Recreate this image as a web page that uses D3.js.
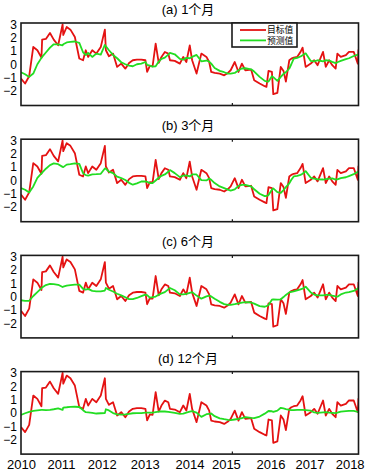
<!DOCTYPE html>
<html>
<head>
<meta http-equiv="Content-Type" content="text/html; charset=UTF-8">
<style>
body { margin: 0; background: #fff; }
text { font-family: "Liberation Sans", Arial, "Noto Sans CJK SC", sans-serif; }
</style>
</head>
<body>

<div class="container"></div>

<script src="https://cdn.jsdelivr.net/npm/d3@7/dist/d3.min.js"></script>
<script>

// months counted from Jan 2010 (points are not evenly spaced in the source)
var months = [0, 1.2, 2.4, 3.6, 4.8, 6.0, 6.2, 7.3, 8.5, 9.6,
    10.9, 12.2, 12.4, 13.4, 14.5, 15.8, 17.1, 18.2, 19.0, 19.7,
    20.9, 22.1, 23.4, 24.6, 24.9, 25.8, 27.0, 28.2, 29.4, 30.6,
    31.7, 32.8, 34.0, 35.3, 36.5, 37.0, 37.8, 38.6, 39.5, 40.4,
    41.2, 42.2, 43.2, 43.7, 45.1, 46.6, 47.6, 48.5, 49.5, 50.2,
    51.5, 52.9, 54.4, 55.2, 55.8, 56.8, 58.3, 59.6, 60.7, 61.5,
    62.7, 63.8, 64.8, 65.8, 67.5, 68.4, 70.0, 71.5, 72.0, 72.6,
    73.6, 74.0, 75.2, 76.2, 77.0, 77.7, 78.7, 79.3, 80.0, 81.0,
    82.0, 82.6, 83.5, 85.0, 86.0, 87.0, 88.6, 89.4, 90.4, 91.3,
    92.3, 92.8, 93.8, 95.3, 96.2, 97.6, 98.8, 99.0];

// 目标值 (same in all four panels)
var target = [-1.07, -1.45, -0.9, 1.3, 1.05, 0.5, 1.85, 1.9, 2.35, 1.85,
    1.43, 3.0, 2.2, 2.8, 2.6, 2.05, 0.43, 0.3, 1.05, 0.55,
    1.05, 0.8, 1.3, 2.6, 1.05, 0.6, 0.8, -0.2, 0.05, -0.33,
    0.1, 0.3, 0.35, 0.35, 0.3, -0.57, -0.12, -0.15, 1.55, 0.1,
    0.55, 0.92, 0.8, 0.3, 0.25, 0.05, 0.55, 0.17, 1.42, 0.3,
    -0.7, 0.8, 0.55, 0.17, -0.58, -0.65, -0.7, -0.83, -0.65, -0.45,
    0.17, -0.58, 0.05, -0.45, -0.4, -1.2, -1.45, -1.65, -1.7, -0.5,
    -0.57, -2.25, -2.15, -0.2, -0.5, -1.3, 0.3, 0.42, 0.5, 0.55,
    0.93, 1.25, -0.2, 0.05, 0.3, -0.07, 0.93, -0.2, 0.3, -0.07,
    -0.33, 0.8, 0.55, 0.68, 0.93, 0.93, 0.05, 1.1];

// 预测值, lead 1 month
var pred1 = [-0.6, -0.75, -0.95, -0.7, 0.0, 0.48, 0.55, 0.88, 1.25, 1.5,
    1.5, 1.42, 1.5, 1.64, 1.68, 1.71, 1.6, 0.9, 0.7, 0.85,
    0.55, 0.8, 0.72, 1.45, 1.35, 1.05, 0.7, 0.45, 0.15, 0.0,
    -0.1, -0.15, 0.0, 0.05, 0.17, -0.05, -0.1, -0.18, -0.15, 0.2,
    0.4, 0.5, 0.72, 0.85, 0.75, 0.4, 0.35, 0.48, 0.45, 0.55,
    0.7, 0.22, 0.28, 0.2, 0.05, -0.28, -0.5, -0.6, -0.7, -0.7,
    -0.65, -0.45, -0.32, -0.3, -0.38, -0.55, -0.95, -1.25, -1.28, -1.3,
    -0.9, -0.97, -1.25, -0.95, -0.72, -0.6, -0.32, 0.0, 0.42, 0.48,
    0.58, 0.68, 0.82, 0.25, 0.22, 0.3, 0.22, 0.3, 0.28, 0.18,
    0.08, 0.15, 0.25, 0.38, 0.45, 0.62, 0.73, 0.75];

// lead 3 months
var pred3 = [-0.57, -0.7, -0.9, -0.45, 0.2, 0.53, 0.58, 0.88, 1.15, 1.28,
    1.22, 1.02, 1.0, 1.19, 1.22, 1.28, 1.25, 0.55, 0.4, 0.37,
    0.45, 0.47, 0.5, 0.9, 0.88, 0.66, 0.55, 0.28, 0.18, 0.03,
    -0.18, -0.32, -0.22, -0.08, -0.07, -0.1, -0.2, -0.2, 0.0, 0.2,
    0.35, 0.45, 0.65, 0.78, 0.55, 0.25, 0.37, 0.38, 0.3, 0.45,
    0.45, 0.02, 0.0, 0.14, 0.05, -0.2, -0.45, -0.58, -0.69, -0.76,
    -0.67, -0.41, -0.33, -0.33, -0.44, -0.66, -1.0, -1.18, -1.17, -1.1,
    -0.7, -0.6, -0.88, -0.94, -0.72, -0.5, -0.22, 0.05, 0.3, 0.34,
    0.42, 0.5, 0.7, 0.2, 0.13, 0.08, 0.07, 0.1, 0.14, 0.15,
    0.07, 0.08, 0.17, 0.24, 0.33, 0.47, 0.65, 0.68];

// lead 6 months
var pred6 = [-0.27, -0.31, -0.31, 0.05, 0.34, 0.64, 0.69, 0.87, 0.96, 0.94,
    0.89, 0.72, 0.75, 0.83, 0.86, 0.9, 0.9, 0.58, 0.52, 0.58,
    0.43, 0.39, 0.4, 0.46, 0.65, 0.52, 0.39, 0.22, 0.1, -0.05,
    -0.19, -0.19, -0.1, 0.04, 0.15, 0.12, -0.07, -0.04, 0.01, 0.15,
    0.24, 0.34, 0.55, 0.65, 0.48, 0.17, 0.17, 0.21, 0.29, 0.34,
    0.08, -0.15, 0.02, 0.08, 0.02, -0.15, -0.39, -0.56, -0.61, -0.62,
    -0.57, -0.51, -0.45, -0.41, -0.44, -0.52, -0.71, -0.76, -0.72, -0.63,
    -0.23, -0.2, -0.23, -0.2, -0.03, 0.13, 0.32, 0.36, 0.4, 0.47,
    0.55, 0.6, 0.75, 0.32, 0.16, 0.09, 0.09, 0.13, 0.14, 0.07,
    0.02, 0.0, 0.17, 0.31, 0.34, 0.43, 0.62, 0.65];

// lead 12 months
var pred12 = [-0.15, -0.03, 0.07, 0.15, 0.19, 0.22, 0.22, 0.2, 0.23, 0.27,
    0.33, 0.22, 0.4, 0.42, 0.45, 0.46, 0.44, 0.2, 0.05, 0.03,
    0.0, -0.05, -0.03, -0.02, 0.27, 0.18, -0.02, -0.12, -0.14, -0.11,
    -0.07, -0.03, -0.02, -0.02, 0.01, 0.02, 0.02, 0.02, 0.06, 0.1,
    0.1, 0.1, 0.08, 0.06, 0.0, -0.08, -0.06, 0.02, 0.1, 0.13,
    0.02, -0.3, -0.1, -0.07, -0.05, -0.25, -0.41, -0.48, -0.53, -0.54,
    -0.5, -0.46, -0.39, -0.32, -0.37, -0.39, -0.28, -0.06, 0.02, 0.14,
    0.12, 0.07, 0.17, 0.38, 0.33, 0.28, 0.23, 0.2, 0.21, 0.22,
    0.22, 0.22, 0.21, 0.16, 0.03, 0.0, 0.04, 0.06, 0.02, 0.0,
    -0.02, 0.01, 0.09, 0.13, 0.15, 0.15, 0.08, 0.07];

var panelTitles = ["(a) 1个月", "(b) 3个月", "(c) 6个月", "(d) 12个月"];
var predictions = [pred1, pred3, pred6, pred12];
var legendLabels = ["目标值", "预测值"];

var yTicks = [-2, -1, 0, 1, 2, 3];
var xTickLabels = ["2010", "2011", "2012", "2013", "2014", "2015", "2016", "2017", "2018"];
// where the year labels sit on the month axis
var xTickMonths = [0, 11.7, 23.7, 36.3, 49.4, 60.1, 73.2, 84.6, 96.4];
var markMonth = 62;   // the lone tick mark drawn on the box

var width = 371;
var height = 472;
var left = 21, right = 358.5;
var panelH = 82.5, panelStep = 116.2, firstTop = 23;
var red = "#e41212", green = "#22dd22";

var svg = d3.select(".container")
            .append("svg")
                .attr("width", width)
                .attr("height", height);

var x = d3.scaleLinear().domain([0, 99]).range([left, right]);

svg.append("clipPath").attr("id", "clip")
   .append("rect")
       .attr("x", left).attr("y", 0)
       .attr("width", right - left).attr("height", panelH);

predictions.forEach(function(pred, i) {

    var top = firstTop + i * panelStep;
    var y = d3.scaleLinear().domain([-3.1, 3.1]).range([panelH, 0]);

    var g = svg.append("g").attr("transform", "translate(0," + top + ")");

    // title
    g.append("text")
        .attr("x", 188)
        .attr("y", -9)
        .attr("text-anchor", "middle")
        .style("font-size", "13px")
        .text(panelTitles[i]);

    // y axis labels, no tick lines
    var yAxis = d3.axisLeft(y).tickValues(yTicks).tickSize(0).tickPadding(4)
                  .tickFormat(d3.format("d"));
    var ya = g.append("g").attr("transform", "translate(" + left + ",0)").call(yAxis);
    ya.select(".domain").remove();
    ya.selectAll("text").style("font-size", "12px").attr("fill", "#000");

    var line = d3.line()
                 .x(function(d, k) { return x(months[k]); })
                 .y(function(d) { return y(d); });

    var lines = g.append("g").attr("clip-path", "url(#clip)");

    lines.append("path")
        .datum(target)
        .attr("fill", "none")
        .attr("stroke", red)
        .attr("stroke-width", 1.8)
        .attr("stroke-linejoin", "round")
        .attr("d", line);

    lines.append("path")
        .datum(pred)
        .attr("fill", "none")
        .attr("stroke", green)
        .attr("stroke-width", 1.8)
        .attr("stroke-linejoin", "round")
        .attr("d", line);

    // axes box
    g.append("rect")
        .attr("x", left).attr("y", 0)
        .attr("width", right - left).attr("height", panelH)
        .attr("fill", "none")
        .attr("stroke", "#1a1a1a")
        .attr("stroke-width", 1.6);

    // small tick marks on the box
    g.append("line")
        .attr("x1", x(markMonth)).attr("x2", x(markMonth))
        .attr("y1", 0).attr("y2", 2.5)
        .attr("stroke", "#1a1a1a").attr("stroke-width", 1.2);
    g.append("line")
        .attr("x1", x(markMonth)).attr("x2", x(markMonth))
        .attr("y1", panelH).attr("y2", panelH - 2.5)
        .attr("stroke", "#1a1a1a").attr("stroke-width", 1.2);

    // year labels only under the last panel
    if (i === predictions.length - 1) {
        var xAxis = d3.axisBottom(x).tickValues(xTickMonths).tickSize(0).tickPadding(6)
                      .tickFormat(function(d, k) { return xTickLabels[k]; });
        var xa = g.append("g").attr("transform", "translate(0," + panelH + ")").call(xAxis);
        xa.select(".domain").remove();
        xa.selectAll("text").style("font-size", "13px").attr("fill", "#000");
    }

    // legend in the first panel
    if (i === 0) {
        var lg = g.append("g").attr("transform", "translate(232,0)");
        lg.append("rect")
            .attr("x", 0).attr("y", 0)
            .attr("width", 65).attr("height", 24)
            .attr("fill", "#fff")
            .attr("stroke", "#1a1a1a")
            .attr("stroke-width", 1.6);
        [red, green].forEach(function(c, k) {
            var ly = 7 + k * 10.4;
            lg.append("line")
                .attr("x1", 8).attr("x2", 34)
                .attr("y1", ly).attr("y2", ly)
                .attr("stroke", c).attr("stroke-width", 1.8);
            lg.append("text")
                .attr("x", 35)
                .attr("y", ly + 3.2)
                .style("font-size", "8.8px")
                .text(legendLabels[k]);
        });
    }
});

</script>
</body>
</html>
